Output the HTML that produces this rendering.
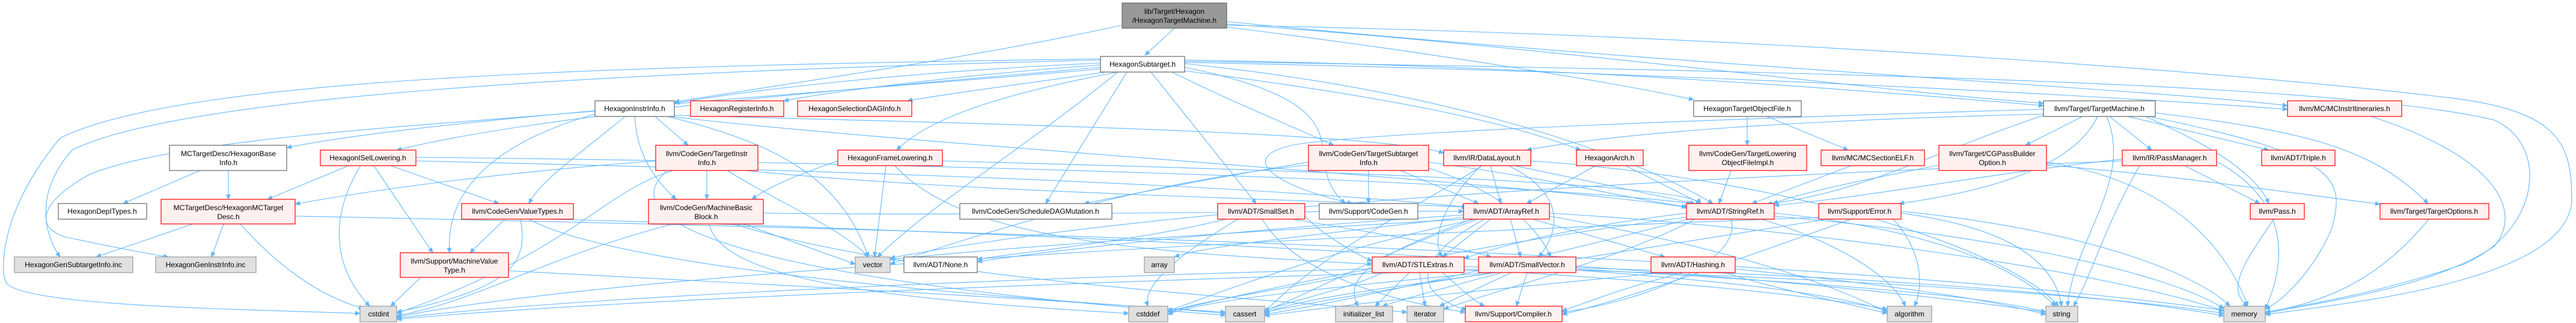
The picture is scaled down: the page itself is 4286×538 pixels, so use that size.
<!DOCTYPE html>
<html><head><meta charset="utf-8"><style>
html,body{margin:0;padding:0;background:#fff;}
svg{display:block;}
text{font-family:"Liberation Sans",Arial,sans-serif;font-size:12px;fill:#000;text-anchor:middle;}
.e{fill:none;stroke:#63b8ff;stroke-width:1.1;marker-end:url(#a);}
.r{fill:#fff0f0;stroke:#ff0000;stroke-width:1.2;}
.w{fill:#fff;stroke:#666;stroke-width:1.2;}
.g{fill:#e0e0e0;stroke:#999;stroke-width:1.2;}
.t{fill:#999;stroke:#666;stroke-width:1.2;}
</style></head><body>
<svg width="4286" height="538" viewBox="0 0 4286 538" xmlns="http://www.w3.org/2000/svg">
<defs><marker id="a" viewBox="0 0 10 10" refX="9" refY="5" markerWidth="10" markerHeight="9" markerUnits="userSpaceOnUse" orient="auto"><path d="M0,0.5 L10,5 L0,9.5z" fill="#63b8ff"/></marker></defs>
<g>
<path class="e" d="M1954 47 L1905 92"/>
<path class="e" d="M1867 42 C1600 100, 1300 140, 1122 170"/>
<path class="e" d="M2041 40 C2600 80, 3100 150, 3400 172"/>
<path class="e" d="M2041 45 C2400 90, 2700 140, 2818 166"/>
<path class="e" d="M2041 36 C2800 110, 3600 150, 3806 176"/>
<path class="e" d="M2041 42 C3000 60, 3800 130, 4050 160 C4250 180, 4279 230, 4279 330 C4279 470, 3900 505, 3769 524"/>
<path class="e" d="M1831 105 C1500 120, 1250 150, 1122 172"/>
<path class="e" d="M1831 108 C1600 125, 1400 150, 1304 168"/>
<path class="e" d="M1840 120 C1700 140, 1550 160, 1510 168"/>
<path class="e" d="M1860 120 C1700 150, 1550 190, 1492 250"/>
<path class="e" d="M1831 112 C1400 150, 900 190, 660 250"/>
<path class="e" d="M1831 115 C1300 160, 700 200, 477 246"/>
<path class="e" d="M1831 100 C1000 120, 300 160, 120 250 C50 330, 80 400, 100 428"/>
<path class="e" d="M1831 98 C1000 110, 300 130, 100 230 C0 350, 0 450, 10 470 C30 510, 400 515, 599 522"/>
<path class="e" d="M990 185 C700 210, 300 230, 150 290 C60 340, 60 380, 110 395 C180 410, 230 420, 280 428"/>
<path class="e" d="M1090 194 L1145 242"/>
<path class="e" d="M1056 194 C1060 260, 1090 300, 1125 332"/>
<path class="e" d="M1040 194 C960 260, 900 300, 880 339"/>
<path class="e" d="M990 190 C850 230, 740 300, 748 421"/>
<path class="e" d="M1115 194 C1500 240, 2500 300, 2806 345"/>
<path class="e" d="M1110 194 C1300 240, 1400 300, 1445 428"/>
<path class="e" d="M1122 192 C1600 205, 2300 220, 2402 255"/>
<path class="e" d="M580 276 L445 332"/>
<path class="e" d="M600 276 C560 340, 540 430, 615 510"/>
<path class="e" d="M622 276 L720 421"/>
<path class="e" d="M650 276 L830 339"/>
<path class="e" d="M692 268 C1200 280, 2000 300, 2440 345"/>
<path class="e" d="M692 262 C1500 270, 2500 300, 2815 339"/>
<path class="e" d="M2177 270 C2000 300, 1900 320, 1804 339"/>
<path class="e" d="M333 284 L205 339"/>
<path class="e" d="M380 284 L380 332"/>
<path class="e" d="M321 373 L160 428"/>
<path class="e" d="M372 373 L352 428"/>
<path class="e" d="M400 373 C450 430, 520 490, 605 514"/>
<path class="e" d="M491 360 C1500 380, 3000 420, 3700 517"/>
<path class="e" d="M1091 268 C800 290, 600 320, 491 340"/>
<path class="e" d="M840 365 L782 421"/>
<path class="e" d="M866 365 C880 440, 850 480, 660 520"/>
<path class="e" d="M880 365 C1000 430, 1400 480, 2039 520"/>
<path class="e" d="M910 365 C1500 380, 2800 430, 3404 520"/>
<path class="e" d="M846 451 C1200 470, 1800 500, 2039 522"/>
<path class="e" d="M700 462 L650 510"/>
<path class="e" d="M1176 284 L1176 332"/>
<path class="e" d="M1120 284 C1000 320, 950 420, 660 522"/>
<path class="e" d="M1110 284 C1000 380, 1300 470, 2039 525"/>
<path class="e" d="M1240 284 C1600 320, 2100 330, 2440 345"/>
<path class="e" d="M1210 284 C1300 340, 1400 380, 1445 428"/>
<path class="e" d="M1237 373 L1423 440"/>
<path class="e" d="M1120 373 C900 430, 800 500, 660 526"/>
<path class="e" d="M1180 373 C1200 470, 1500 500, 1878 522"/>
<path class="e" d="M1220 373 C1500 460, 2000 490, 2341 520"/>
<path class="e" d="M1270 355 C1700 360, 2200 350, 2435 352"/>
<path class="e" d="M1394 268 C1330 290, 1280 310, 1251 332"/>
<path class="e" d="M1474 276 L1455 428"/>
<path class="e" d="M1489 276 C1600 400, 1900 420, 2283 440"/>
<path class="e" d="M1568 268 C2000 280, 2800 300, 2830 339"/>
<path class="e" d="M1875 120 L1740 339"/>
<path class="e" d="M1860 120 C1700 250, 1550 340, 1460 428"/>
<path class="e" d="M1915 120 L2090 339"/>
<path class="e" d="M1950 120 C2050 170, 2150 210, 2219 242"/>
<path class="e" d="M1971 118 C2300 160, 2500 200, 2630 250"/>
<path class="e" d="M1971 112 C2300 180, 2150 260, 2238 339"/>
<path class="e" d="M1971 106 C2400 150, 2700 250, 2850 339"/>
<path class="e" d="M1971 100 C2600 110, 3100 150, 3400 176"/>
<path class="e" d="M1971 104 C2800 120, 3500 160, 3806 182"/>
<path class="e" d="M1971 102 C3100 120, 3900 140, 4150 200 C4240 240, 4230 380, 4100 440 C3950 490, 3850 505, 3769 520"/>
<path class="e" d="M2277 284 L2277 339"/>
<path class="e" d="M2330 284 L2460 339"/>
<path class="e" d="M2177 275 C1900 300, 1600 400, 1481 440"/>
<path class="e" d="M2377 280 C2500 320, 2560 380, 2580 428"/>
<path class="e" d="M2377 270 C2600 300, 2700 330, 2810 345"/>
<path class="e" d="M2480 276 L2497 339"/>
<path class="e" d="M2510 276 C2600 320, 2600 380, 2560 428"/>
<path class="e" d="M2464 276 C2400 340, 2380 400, 2400 428"/>
<path class="e" d="M2520 276 L2820 339"/>
<path class="e" d="M2466 276 C2350 350, 2200 420, 2104 520"/>
<path class="e" d="M2547 268 C3000 300, 3350 420, 3425 510"/>
<path class="e" d="M2655 276 L2540 339"/>
<path class="e" d="M2705 276 L2830 339"/>
<path class="e" d="M2880 284 L2860 339"/>
<path class="e" d="M3080 276 L2915 339"/>
<path class="e" d="M2907 194 L2907 242"/>
<path class="e" d="M2940 194 L3075 250"/>
<path class="e" d="M3400 190 C3000 200, 2700 220, 2540 250"/>
<path class="e" d="M3400 182 C2800 200, 2300 220, 2160 240 C2050 260, 2120 310, 2250 339"/>
<path class="e" d="M3465 194 L3370 242"/>
<path class="e" d="M3510 194 L3580 250"/>
<path class="e" d="M3540 194 L3775 250"/>
<path class="e" d="M3570 194 C3650 230, 3750 280, 3775 339"/>
<path class="e" d="M3586 188 C3850 220, 3950 250, 4040 339"/>
<path class="e" d="M3400 192 C3200 260, 3100 320, 2940 340"/>
<path class="e" d="M3490 194 C3450 280, 3300 320, 3160 339"/>
<path class="e" d="M3505 194 C3550 300, 3450 400, 3440 510"/>
<path class="e" d="M3575 194 C3900 260, 3900 300, 3880 380 C3850 450, 3800 500, 3769 515"/>
<path class="e" d="M3405 270 C3600 300, 3700 400, 3740 510"/>
<path class="e" d="M3226 275 C3100 300, 3000 320, 2950 339"/>
<path class="e" d="M3405 275 C3600 290, 3800 320, 3960 340"/>
<path class="e" d="M3635 276 L3760 339"/>
<path class="e" d="M3690 270 C3780 320, 3820 400, 3769 515"/>
<path class="e" d="M3560 276 C3500 380, 3480 460, 3450 510"/>
<path class="e" d="M3531 265 C3300 290, 3100 330, 2952 342"/>
<path class="e" d="M3531 268 C3000 290, 2000 330, 1481 430"/>
<path class="e" d="M3783 365 C3740 430, 3700 480, 3740 510"/>
<path class="e" d="M4041 365 C3980 440, 3900 500, 3769 520"/>
<path class="e" d="M3945 194 C4150 260, 4200 350, 4150 410 C4050 480, 3850 505, 3769 522"/>
<path class="e" d="M2480 365 L2400 428"/>
<path class="e" d="M2513 365 L2530 428"/>
<path class="e" d="M2550 365 L2770 428"/>
<path class="e" d="M2435 358 C2100 380, 1800 410, 1626 436"/>
<path class="e" d="M2435 362 C2200 390, 2000 410, 1954 428"/>
<path class="e" d="M2440 365 C2000 390, 1700 410, 1481 432"/>
<path class="e" d="M2460 365 C2300 420, 2200 480, 2104 518"/>
<path class="e" d="M2455 365 C2200 420, 2050 480, 1943 518"/>
<path class="e" d="M2450 365 C2300 420, 2230 460, 2260 510"/>
<path class="e" d="M2470 365 C2350 430, 2350 490, 2440 516"/>
<path class="e" d="M2578 355 C3000 380, 3500 450, 3700 518"/>
<path class="e" d="M2578 360 C2800 400, 3000 450, 3140 520"/>
<path class="e" d="M2806 355 C2600 380, 2500 410, 2436 430"/>
<path class="e" d="M2930 365 C3050 400, 3150 460, 3170 510"/>
<path class="e" d="M2952 355 C3200 380, 3350 440, 3420 510"/>
<path class="e" d="M2880 365 C2900 430, 2750 500, 2599 520"/>
<path class="e" d="M2806 362 C2500 400, 2100 480, 1943 520"/>
<path class="e" d="M2810 365 C2600 420, 2300 490, 2104 524"/>
<path class="e" d="M2820 365 C2700 430, 2500 480, 2402 515"/>
<path class="e" d="M2952 360 C3300 390, 3600 450, 3700 514"/>
<path class="e" d="M3150 365 C3200 420, 3200 480, 3185 510"/>
<path class="e" d="M3163 355 C3350 380, 3420 440, 3430 510"/>
<path class="e" d="M3163 352 C3450 380, 3650 450, 3710 510"/>
<path class="e" d="M3040 365 C2700 420, 2300 480, 2104 520"/>
<path class="e" d="M3030 362 C2000 400, 1000 460, 660 528"/>
<path class="e" d="M3080 365 C2900 430, 2700 500, 2599 524"/>
<path class="e" d="M2150 365 C2300 390, 2420 410, 2481 428"/>
<path class="e" d="M2171 360 C2200 390, 2250 420, 2283 435"/>
<path class="e" d="M2040 365 C1900 400, 1700 420, 1626 432"/>
<path class="e" d="M2060 365 C1950 430, 1900 480, 1910 510"/>
<path class="e" d="M2100 365 C2150 450, 2300 500, 2438 520"/>
<path class="e" d="M2400 454 C2430 480, 2450 500, 2470 510"/>
<path class="e" d="M2345 454 L2288 510"/>
<path class="e" d="M2362 454 L2371 510"/>
<path class="e" d="M2300 454 C2250 480, 2150 500, 2104 518"/>
<path class="e" d="M2290 450 C2150 480, 2000 500, 1943 520"/>
<path class="e" d="M2283 448 C1800 460, 1000 490, 660 530"/>
<path class="e" d="M2436 448 C2800 470, 3000 490, 3140 515"/>
<path class="e" d="M2436 444 C3000 460, 3500 490, 3700 522"/>
<path class="e" d="M2541 454 L2523 510"/>
<path class="e" d="M2490 454 C2300 480, 2150 500, 2104 522"/>
<path class="e" d="M2470 454 C2200 480, 2000 500, 1943 524"/>
<path class="e" d="M2500 454 C2400 480, 2330 500, 2300 510"/>
<path class="e" d="M2515 454 L2395 510"/>
<path class="e" d="M2622 450 C2900 470, 3050 490, 3140 518"/>
<path class="e" d="M2622 446 C3100 460, 3500 490, 3700 526"/>
<path class="e" d="M2460 450 C1800 470, 1000 500, 660 532"/>
<path class="e" d="M2622 448 C3000 470, 3300 490, 3404 520"/>
<path class="e" d="M2870 454 C2950 480, 3050 500, 3140 522"/>
<path class="e" d="M2887 448 C3100 470, 3300 495, 3404 524"/>
<path class="e" d="M2770 454 C2500 480, 2300 500, 2104 526"/>
<path class="e" d="M2800 454 C2700 480, 2650 500, 2599 518"/>
</g>
<g>
<rect class="t" x="1867" y="5" width="174" height="42"/><text x="1954" y="23">lib/Target/Hexagon</text><text x="1954" y="38">/HexagonTargetMachine.h</text>
<rect class="w" x="1831" y="94" width="140" height="26"/><text x="1901" y="111">HexagonSubtarget.h</text>
<rect class="w" x="990" y="168" width="132" height="26"/><text x="1056" y="185">HexagonInstrInfo.h</text>
<rect class="r" x="1149" y="168" width="155" height="26"/><text x="1226" y="185">HexagonRegisterInfo.h</text>
<rect class="r" x="1327" y="168" width="190" height="26"/><text x="1422" y="185">HexagonSelectionDAGInfo.h</text>
<rect class="w" x="2818" y="168" width="179" height="26"/><text x="2907" y="185">HexagonTargetObjectFile.h</text>
<rect class="w" x="3400" y="168" width="186" height="26"/><text x="3493" y="185">llvm/Target/TargetMachine.h</text>
<rect class="r" x="3806" y="168" width="190" height="26"/><text x="3901" y="185">llvm/MC/MCInstrItineraries.h</text>
<rect class="w" x="282" y="242" width="195" height="42"/><text x="380" y="260">MCTargetDesc/HexagonBase</text><text x="380" y="275">Info.h</text>
<rect class="r" x="533" y="250" width="159" height="26"/><text x="612" y="267">HexagonISelLowering.h</text>
<rect class="r" x="1091" y="242" width="170" height="42"/><text x="1176" y="260">llvm/CodeGen/TargetInstr</text><text x="1176" y="275">Info.h</text>
<rect class="r" x="1394" y="250" width="174" height="26"/><text x="1481" y="267">HexagonFrameLowering.h</text>
<rect class="r" x="2177" y="242" width="200" height="42"/><text x="2277" y="260">llvm/CodeGen/TargetSubtarget</text><text x="2277" y="275">Info.h</text>
<rect class="r" x="2402" y="250" width="145" height="26"/><text x="2474" y="267">llvm/IR/DataLayout.h</text>
<rect class="r" x="2623" y="250" width="111" height="26"/><text x="2678" y="267">HexagonArch.h</text>
<rect class="r" x="2810" y="242" width="196" height="42"/><text x="2908" y="260">llvm/CodeGen/TargetLowering</text><text x="2908" y="275">ObjectFileImpl.h</text>
<rect class="r" x="3030" y="250" width="172" height="26"/><text x="3116" y="267">llvm/MC/MCSectionELF.h</text>
<rect class="r" x="3226" y="242" width="179" height="42"/><text x="3315" y="260">llvm/Target/CGPassBuilder</text><text x="3315" y="275">Option.h</text>
<rect class="r" x="3531" y="250" width="157" height="26"/><text x="3610" y="267">llvm/IR/PassManager.h</text>
<rect class="r" x="3763" y="250" width="122" height="26"/><text x="3824" y="267">llvm/ADT/Triple.h</text>
<rect class="w" x="97" y="339" width="147" height="26"/><text x="170" y="356">HexagonDepITypes.h</text>
<rect class="r" x="268" y="332" width="223" height="41"/><text x="380" y="350">MCTargetDesc/HexagonMCTarget</text><text x="380" y="365">Desc.h</text>
<rect class="r" x="768" y="339" width="186" height="26"/><text x="861" y="356">llvm/CodeGen/ValueTypes.h</text>
<rect class="r" x="1079" y="332" width="191" height="41"/><text x="1175" y="350">llvm/CodeGen/MachineBasic</text><text x="1175" y="365">Block.h</text>
<rect class="w" x="1597" y="339" width="253" height="26"/><text x="1723" y="356">llvm/CodeGen/ScheduleDAGMutation.h</text>
<rect class="r" x="2026" y="339" width="145" height="26"/><text x="2098" y="356">llvm/ADT/SmallSet.h</text>
<rect class="w" x="2195" y="339" width="164" height="26"/><text x="2277" y="356">llvm/Support/CodeGen.h</text>
<rect class="r" x="2435" y="339" width="143" height="26"/><text x="2506" y="356">llvm/ADT/ArrayRef.h</text>
<rect class="r" x="2806" y="339" width="146" height="26"/><text x="2879" y="356">llvm/ADT/StringRef.h</text>
<rect class="r" x="3026" y="339" width="137" height="26"/><text x="3094" y="356">llvm/Support/Error.h</text>
<rect class="r" x="3744" y="339" width="90" height="26"/><text x="3789" y="356">llvm/Pass.h</text>
<rect class="r" x="3960" y="339" width="181" height="26"/><text x="4050" y="356">llvm/Target/TargetOptions.h</text>
<rect class="g" x="24" y="428" width="197" height="26"/><text x="122" y="445">HexagonGenSubtargetInfo.inc</text>
<rect class="g" x="259" y="428" width="167" height="26"/><text x="342" y="445">HexagonGenInstrInfo.inc</text>
<rect class="r" x="666" y="421" width="180" height="41"/><text x="756" y="439">llvm/Support/MachineValue</text><text x="756" y="454">Type.h</text>
<rect class="g" x="1423" y="428" width="58" height="26"/><text x="1452" y="445">vector</text>
<rect class="w" x="1504" y="428" width="122" height="26"/><text x="1565" y="445">llvm/ADT/None.h</text>
<rect class="g" x="1904" y="428" width="50" height="26"/><text x="1929" y="445">array</text>
<rect class="r" x="2283" y="428" width="153" height="26"/><text x="2359" y="445">llvm/ADT/STLExtras.h</text>
<rect class="r" x="2460" y="428" width="162" height="26"/><text x="2541" y="445">llvm/ADT/SmallVector.h</text>
<rect class="r" x="2747" y="428" width="140" height="26"/><text x="2817" y="445">llvm/ADT/Hashing.h</text>
<rect class="g" x="599" y="510" width="61" height="26"/><text x="630" y="527">cstdint</text>
<rect class="g" x="1878" y="510" width="65" height="26"/><text x="1910" y="527">cstddef</text>
<rect class="g" x="2039" y="510" width="65" height="26"/><text x="2071" y="527">cassert</text>
<rect class="g" x="2222" y="510" width="95" height="26"/><text x="2269" y="527">initializer_list</text>
<rect class="g" x="2341" y="510" width="61" height="26"/><text x="2371" y="527">iterator</text>
<rect class="r" x="2438" y="510" width="161" height="26"/><text x="2518" y="527">llvm/Support/Compiler.h</text>
<rect class="g" x="3140" y="510" width="74" height="26"/><text x="3177" y="527">algorithm</text>
<rect class="g" x="3404" y="510" width="53" height="26"/><text x="3430" y="527">string</text>
<rect class="g" x="3700" y="510" width="69" height="26"/><text x="3734" y="527">memory</text>
</g>
</svg>
</body></html>
